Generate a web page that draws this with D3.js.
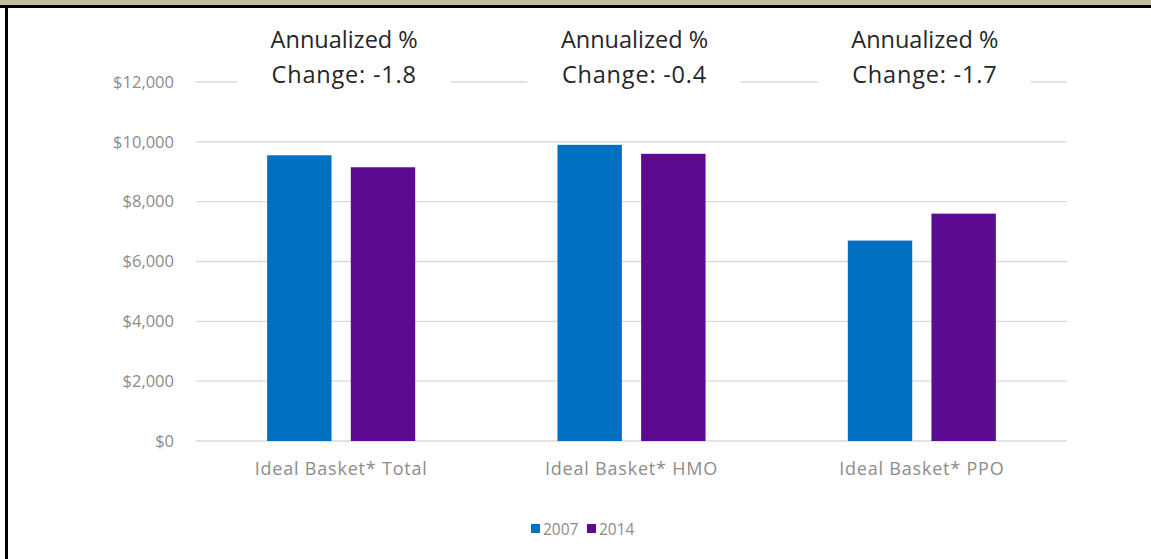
<!DOCTYPE html>
<html>
<head>
<meta charset="utf-8">
<script src="https://cdn.jsdelivr.net/npm/d3@7"></script>
<style>
  body { margin: 0; background: #fff; }
  svg { display: block; }
</style>
</head>
<body>
<div id="chart"></div>
<script>
// chart values
var categories = ["Ideal Basket* Total", "Ideal Basket* HMO", "Ideal Basket* PPO"];
var seriesNames = ["2007", "2014"];
var values2007 = [9550, 9900, 6700];
var values2014 = [9150, 9600, 7600];
var annualChange = ["-1.8", "-0.4", "-1.7"];
var yTicks = [0, 2000, 4000, 6000, 8000, 10000, 12000];
var colors = ["#0070c0", "#5c0a91"];

var width = 1151, height = 559;

var svg = d3.select("#chart")
    .append("svg")
    .attr("width", width)
    .attr("height", height);

// frame: tan header strip, black rule, left border
svg.append("rect").attr("x", 0).attr("y", 0).attr("width", width).attr("height", 5).attr("fill", "#c5bb98");
svg.append("rect").attr("x", 0).attr("y", 5).attr("width", width).attr("height", 3).attr("fill", "#000");
svg.append("rect").attr("x", 5).attr("y", 5).attr("width", 3).attr("height", height).attr("fill", "#000");

var plot = {left: 196, right: 1067, top: 82, bottom: 441};

var x = d3.scaleBand()
    .domain(categories)
    .range([plot.left, plot.right])
    .paddingInner(0.49)
    .paddingOuter(0.245);

var xs = d3.scaleBand()
    .domain(seriesNames)
    .range([0, x.bandwidth()])
    .paddingInner(0.23);

var y = d3.scaleLinear()
    .domain([0, 12000])
    .range([plot.bottom, plot.top]);

// gridlines
svg.append("g")
    .selectAll("line")
    .data(yTicks)
    .enter()
    .append("line")
    .attr("x1", plot.left)
    .attr("x2", plot.right)
    .attr("y1", function(d){ return y(d); })
    .attr("y2", function(d){ return y(d); })
    .attr("stroke", "#d9d9d9")
    .attr("stroke-width", 1.3);

// y axis labels
var yAxis = d3.axisLeft(y)
    .tickValues(yTicks)
    .tickSize(0)
    .tickPadding(22)
    .tickFormat(function(d){ return "$" + d3.format(",")(d); });

var gy = svg.append("g")
    .attr("transform", "translate(" + plot.left + ",0)")
    .call(yAxis);
gy.select(".domain").remove();
gy.selectAll("text")
    .attr("font-family", "'Open Sans', sans-serif")
    .attr("font-size", "16.5px")
    .attr("fill", "#8c8c8c");

// bars
var rows = categories.map(function(c, i){
    return {cat: c, vals: [values2007[i], values2014[i]]};
});

var groups = svg.append("g")
    .selectAll("g")
    .data(rows)
    .enter()
    .append("g")
    .attr("transform", function(d){ return "translate(" + x(d.cat) + ",0)"; });

groups.selectAll("rect")
    .data(function(d){ return d.vals.map(function(v, j){ return {s: seriesNames[j], v: v, j: j}; }); })
    .enter()
    .append("rect")
    .attr("x", function(d){ return xs(d.s); })
    .attr("y", function(d){ return y(d.v); })
    .attr("width", xs.bandwidth())
    .attr("height", function(d){ return y(0) - y(d.v); })
    .attr("fill", function(d){ return colors[d.j]; });

// x axis labels
var xAxis = d3.axisBottom(x).tickSize(0).tickPadding(21);
var gx = svg.append("g")
    .attr("transform", "translate(0," + plot.bottom + ")")
    .call(xAxis);
gx.select(".domain").remove();
gx.selectAll("text")
    .attr("font-family", "'Open Sans', sans-serif")
    .attr("font-size", "18px")
    .attr("letter-spacing", "0.8px")
    .attr("fill", "#8c8c8c");

// annotation boxes above each group
var notes = svg.append("g")
    .selectAll("g")
    .data(categories)
    .enter()
    .append("g")
    .attr("transform", function(d){ return "translate(" + (x(d) + x.bandwidth() / 2 + 3) + ",0)"; });

notes.append("rect")
    .attr("x", -107)
    .attr("y", 22)
    .attr("width", 213)
    .attr("height", 72)
    .attr("fill", "#fff");

notes.append("text")
    .attr("text-anchor", "middle")
    .attr("y", 48)
    .attr("font-family", "'Open Sans', sans-serif")
    .attr("font-size", "23.5px")
    .attr("fill", "#262626")
    .text("Annualized %");

notes.append("text")
    .attr("text-anchor", "middle")
    .attr("y", 83)
    .attr("font-family", "'Open Sans', sans-serif")
    .attr("font-size", "23.5px")
    .attr("letter-spacing", "0.8px")
    .attr("fill", "#262626")
    .text(function(d, i){ return "Change: " + annualChange[i]; });

// legend
var legend = svg.append("g").attr("transform", "translate(531,529)");
var li = legend.selectAll("g")
    .data(seriesNames)
    .enter()
    .append("g")
    .attr("transform", function(d, i){ return "translate(" + (i * 56) + ",0)"; });
li.append("rect")
    .attr("x", 0)
    .attr("y", -5)
    .attr("width", 9)
    .attr("height", 9)
    .attr("fill", function(d, i){ return colors[i]; });
li.append("text")
    .attr("x", 12)
    .attr("y", 5.5)
    .attr("font-family", "'Open Sans', sans-serif")
    .attr("font-size", "15.5px")
    .attr("fill", "#8c8c8c")
    .text(function(d){ return d; });
</script>
</body>
</html>
